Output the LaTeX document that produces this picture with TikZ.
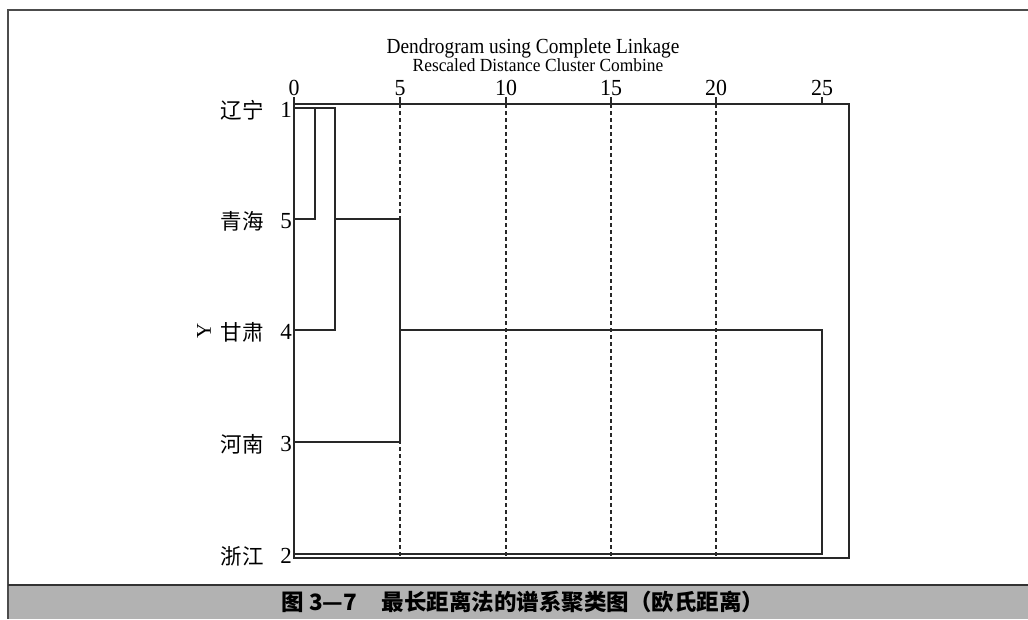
\documentclass[tikz,border=0pt]{standalone}
\usepackage{fontspec}
\setmainfont{Liberation Serif}
\newfontfamily\cjk{Noto Sans CJK SC}
\definecolor{band}{RGB}{178,178,178}
\definecolor{ink}{RGB}{40,40,40}
\begin{document}
\begin{tikzpicture}[x=1pt,y=-1pt,
  frameline/.style={line width=1.2pt, ink},
  dendro/.style={line width=1.2pt, ink},
  gridline/.style={line width=1.1pt, ink, dash pattern=on 4pt off 3pt},
  tickmark/.style={line width=1.1pt, ink},
  ticklab/.style={font=\fontsize{23}{23}\selectfont, anchor=base, inner sep=0pt},
  rownum/.style={font=\fontsize{23}{23}\selectfont, anchor=east, inner sep=0pt},
  rowlab/.style={font=\cjk\fontsize{21.5}{21.5}\selectfont, anchor=east, inner sep=0pt},
  titletext/.style={inner sep=0pt, anchor=base},
  borderline/.style={line width=1.6pt, black!70}]
\useasboundingbox (0,0) rectangle (1028,619);
% outer border and caption band
\fill[band] (8,585) rectangle (1028,619);
\draw[borderline] (1028,10) -- (8,10) -- (8,619);
\draw[line width=1.6pt, black!80] (8,585) -- (1028,585);
\node[font=\cjk\bfseries\fontsize{22.5}{22.5}\selectfont, inner sep=0pt] (cap) at (523,602) {图 3—7\hspace{1.1em}最长距离法的谱系聚类图（欧氏距离）};
% titles
\node[titletext, font=\fontsize{21.5}{21.5}\selectfont] (title) at (533,53) {\scalebox{0.9}[1]{Dendrogram using Complete Linkage}};
\node[titletext, font=\fontsize{18.5}{18.5}\selectfont] (subtitle) at (538,71) {\scalebox{0.94}[1]{Rescaled Distance Cluster Combine}};
% tick labels and ticks
\foreach \v/\xx in {0/294,5/400,10/506,15/611,20/716,25/822}{
  \node[ticklab] (t\v) at (\xx,95) {\scalebox{0.95}[1]{\v}};
  \draw[tickmark] (\xx,97) -- (\xx,104);
}
% dashed grid
\foreach \xx in {400,506,611,716}{
  \draw[gridline] (\xx,104) -- (\xx,558);
}
% frame
\draw[frameline] (294,104) rectangle (849,558);
% leaves
\coordinate (L1) at (294,108);
\coordinate (L5) at (294,219);
\coordinate (L4) at (294,330);
\coordinate (L3) at (294,442);
\coordinate (L2) at (294,554);
% merge points
\coordinate (k1) at (315,219);
\coordinate (k2) at (335,330);
\coordinate (k2c) at (335,219);
\coordinate (k3) at (400,442);
\coordinate (k3c) at (400,330);
\coordinate (k4) at (822,554);
\draw[dendro] (L1) -| (k1) -- (L5);
\draw[dendro] (L1) -| (k2) -- (L4);
\draw[dendro] (k2c) -| (k3) -- (L3);
\draw[dendro] (k3c) -| (k4) -- (L2);
% row labels
\foreach \n/\yy/\lab in {1/108/辽宁,5/219/青海,4/330/甘肃,3/442/河南,2/554/浙江}{
  \node[rownum] (n\n) at (292,\yy+2) {\n};
  \node[rowlab] (r\n) at (264,\yy+2) {\lab};
}
\node[font=\fontsize{21}{21}\selectfont, rotate=90, inner sep=0pt] (yl) at (204,331) {Y};
\end{tikzpicture}
\end{document}
